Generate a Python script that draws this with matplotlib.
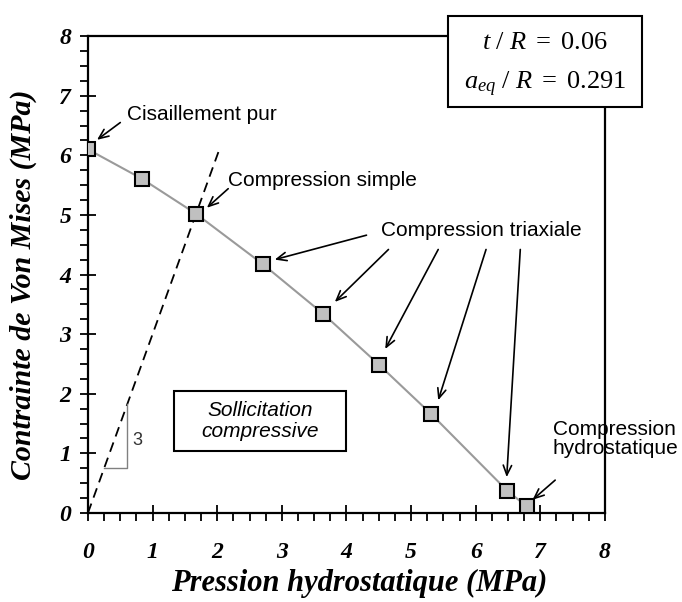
import matplotlib
matplotlib.use('Agg')
import matplotlib.pyplot as plt
from matplotlib.patches import Rectangle
from matplotlib.ticker import MultipleLocator

plt.rcParams['mathtext.fontset'] = 'custom'
plt.rcParams['mathtext.rm'] = 'Liberation Serif'
plt.rcParams['mathtext.it'] = 'Liberation Serif:italic'

# essais : pression hydrostatique / contrainte de Von Mises (MPa)
pression = [0, 0.83, 1.67, 2.71, 3.64, 4.50, 5.31, 6.49, 6.79]
von_mises = [6.1, 5.61, 5.02, 4.17, 3.34, 2.49, 1.66, 0.37, 0.11]

# droite de pente 3 (compression simple)
pente_x = [0, 2.05]
pente_y = [0, 6.15]

ticks = [0, 1, 2, 3, 4, 5, 6, 7, 8]
serif_bi = dict(family='Liberation Serif', weight='bold', style='italic')
sans = dict(family='Liberation Sans', size=15)

fig = plt.figure(figsize=(6.82, 6.02), dpi=100)
ax = fig.add_axes([0.129, 0.148, 0.758, 0.792])

ax.plot(pente_x, pente_y, color='black', ls=(0, (5.5, 3.5)), lw=1.3, zorder=2)
ax.plot(pression, von_mises, color='#9a9a9a', lw=1.5, zorder=3)
ax.plot(pression, von_mises, ls='none', marker='s', ms=10.5, mfc='#c0c0c0',
        mec='black', mew=1.5, zorder=4)

# petit triangle de pente
ax.plot([0.25, 0.61, 0.61], [0.75, 0.75, 1.83], color='#808080', lw=1.0)
ax.text(0.77, 1.22, '3', ha='center', va='center', color='#333333',
        family='Liberation Sans', size=13)

ax.set_xlim(0, 8)
ax.set_ylim(0, 8)
ax.set_xticks(ticks)
ax.set_yticks(ticks)
ax.xaxis.set_minor_locator(MultipleLocator(0.25))
ax.yaxis.set_minor_locator(MultipleLocator(0.25))
ax.tick_params(which='major', direction='inout', length=12, width=1.3)
ax.tick_params(which='minor', direction='out', length=5.5, width=1.3)
ax.tick_params(axis='x', which='major', pad=15)
ax.tick_params(axis='y', which='major', pad=6)
for lab in ax.get_xticklabels() + ax.get_yticklabels():
    lab.set_fontproperties(matplotlib.font_manager.FontProperties(size=17, **serif_bi))
for s in ax.spines.values():
    s.set_linewidth(1.6)

ax.set_xlabel('Pression hydrostatique (MPa)', size=22, **serif_bi)
ax.set_ylabel('Contrainte de Von Mises (MPa)', size=21.5, **serif_bi)
ax.xaxis.set_label_coords(0.525, -0.118)
ax.yaxis.set_label_coords(-0.099, 0.478)

arrow = dict(arrowstyle='->,head_length=0.7,head_width=0.3', color='black', lw=1.2,
             shrinkA=0, shrinkB=0)

ax.text(0.6, 6.68, 'Cisaillement pur', ha='left', va='center', **sans)
ax.annotate('', xy=(0.14, 6.26), xytext=(0.5, 6.55), arrowprops=arrow)

ax.text(2.17, 5.58, 'Compression simple', ha='left', va='center', **sans)
ax.annotate('', xy=(1.84, 5.12), xytext=(2.17, 5.44), arrowprops=arrow)

ax.text(7.64, 4.74, 'Compression triaxiale', ha='right', va='center', **sans)
fleches_tri = [((4.31, 4.66), (2.89, 4.25)),
               ((4.65, 4.42), (3.82, 3.54)),
               ((5.42, 4.42), (4.60, 2.75)),
               ((6.16, 4.42), (5.42, 1.89)),
               ((6.69, 4.42), (6.48, 0.60))]
for debut, fin in fleches_tri:
    ax.annotate('', xy=fin, xytext=debut, arrowprops=arrow)

ax.text(7.19, 1.24, 'Compression\nhydrostatique', ha='left', va='center',
        linespacing=1.0, **sans)
ax.annotate('', xy=(6.88, 0.22), xytext=(7.23, 0.55), arrowprops=arrow)

ax.add_patch(Rectangle((1.33, 1.04), 2.67, 1.0, fill=False, ec='black', lw=1.5))
ax.text(2.67, 1.54, 'Sollicitation\ncompressive', ha='center', va='center',
        style='italic', linespacing=1.15, **sans)

# cadre des parametres, par-dessus le coin haut droit
W, H = 682, 602
ax.add_patch(Rectangle((448 / W, 1 - 107 / H), 194 / W, 91 / H, transform=fig.transFigure,
                       fc='white', ec='black', lw=1.5, clip_on=False, zorder=10))
ax.text(545 / W, 1 - 42 / H, r'$t\ /\ R\ =\ 0.06$', transform=fig.transFigure,
        ha='center', va='center', size=19, zorder=11)
ax.text(545 / W, 1 - 84 / H, r'$a_{eq}\ /\ R\ =\ 0.291$', transform=fig.transFigure,
        ha='center', va='center', size=19, zorder=11)

fig.savefig('out.png', dpi=100)
